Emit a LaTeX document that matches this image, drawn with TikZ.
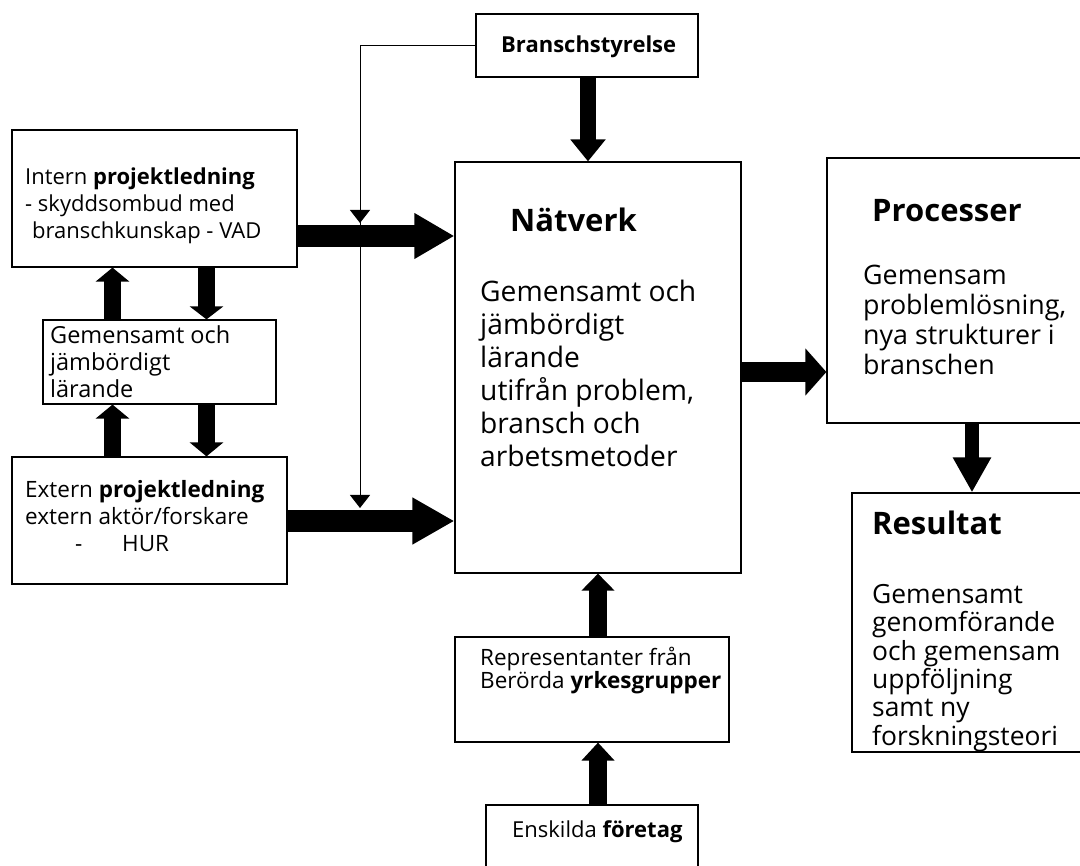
\documentclass[tikz,border=0pt]{standalone}
\usepackage{fontspec}
\setmainfont{Open Sans}
\usetikzlibrary{arrows.meta}
\newcommand\mylines[1]{\begin{tabular}[t]{@{}l@{}}#1\end{tabular}}
\begin{document}
\begin{tikzpicture}[x=1pt,y=-1pt,
  box/.style={draw, line width=1.2pt, inner sep=0pt, rectangle},
  txt/.style={anchor=base west, inner sep=0pt},
  bigarr/.style n args={3}{line width=#1pt, -{Triangle[width=#2pt,length=#3pt]}},
  thinarr/.style={line width=1pt, -{Triangle[width=20pt,length=13pt]}}]
\useasboundingbox (0,0) rectangle (1080,866);

% boxes
\node[box, minimum width=222pt, minimum height=63pt]  (brans)  at (587,45.5) {};
\node[box, minimum width=286pt, minimum height=411pt] (netv)   at (598,367.5) {};
\node[box, minimum width=258pt, minimum height=265pt] (proc)   at (956,290.5) {};
\node[box, minimum width=233pt, minimum height=259pt] (res)    at (968.5,622.5) {};
\node[box, minimum width=285pt, minimum height=137pt] (intern) at (154.5,198.5) {};
\node[box, minimum width=233pt, minimum height=84pt]  (gem)    at (159.5,362) {};
\node[box, minimum width=275pt, minimum height=127pt] (ext)    at (149.5,520.5) {};
\node[box, minimum width=274pt, minimum height=105pt] (repr)   at (592,689.5) {};
\node[box, minimum width=212pt, minimum height=75pt]  (fore)   at (592,842.5) {};

% texts
\node[txt] (tbrans) at (501,53) {\fontsize{22pt}{26pt}\selectfont\bfseries Branschstyrelse};
\node[txt] (tnetvh) at (510,232) {\fontsize{31pt}{36pt}\selectfont\bfseries Nätverk};
\node[txt] (tnetv) at (480,302) {\fontsize{28.2pt}{33pt}\selectfont\mylines{Gemensamt och\\jämbördigt\\lärande\\utifrån problem,\\bransch och\\arbetsmetoder}};
\node[txt] (tproch) at (872,222) {\fontsize{31pt}{36pt}\selectfont\bfseries Processer};
\node[txt] (tproc) at (863,285) {\fontsize{26.8pt}{30pt}\selectfont\mylines{Gemensam\\problemlösning,\\nya strukturer i\\branschen}};
\node[txt] (tresh) at (872,535) {\fontsize{31pt}{36pt}\selectfont\bfseries Resultat};
\node[txt] (tres) at (872,603) {\fontsize{26.4pt}{28pt}\selectfont\mylines{Gemensamt\\genomförande\\och gemensam\\uppföljning\\samt ny\\forskningsteori}};
\node[txt] (tintern) at (25,185) {\fontsize{22pt}{27pt}\selectfont\mylines{Intern \textbf{projektledning}\\- skyddsombud med\\\hspace*{7pt}branschkunskap - VAD}};
\node[txt] (tgem) at (50,344) {\fontsize{23.5pt}{27pt}\selectfont\mylines{Gemensamt och\\jämbördigt\\lärande}};
\node[txt] (text) at (25,498) {\fontsize{22.5pt}{27pt}\selectfont\mylines{Extern \textbf{projektledning}\\extern aktör/forskare\\\hspace*{50pt}\makebox[47pt][l]{-}HUR}};
\node[txt] (trepr) at (480,665) {\fontsize{22.5pt}{23pt}\selectfont\mylines{Representanter från\\Berörda \textbf{yrkesgrupper}}};
\node[txt] (tfore) at (512,837) {\fontsize{22pt}{25pt}\selectfont Enskilda \textbf{företag}};

% thick arrows
\draw[bigarr={16}{34}{22}] (brans.south -| 588,0) -- (netv.north -| 588,0);
\draw[bigarr={22}{43}{40}] (intern.east |- 0,236) -- (netv.west |- 0,236);
\draw[bigarr={22}{44}{42}] (ext.east |- 0,521) -- (netv.west |- 0,521);
\draw[bigarr={20}{46}{21}] (netv.east |- 0,372) -- (proc.west |- 0,372);
\draw[bigarr={14}{36}{35}] (proc.south -| 972,0) -- (res.north -| 972,0);
\draw[bigarr={17}{33}{14}] (gem.north -| 112.5,0) -- (intern.south -| 112.5,0);
\draw[bigarr={17}{33}{13}] (intern.south -| 206.5,0) -- (gem.north -| 206.5,0);
\draw[bigarr={17}{33}{14}] (ext.north -| 112.5,0) -- (gem.south -| 112.5,0);
\draw[bigarr={17}{33}{14}] (gem.south -| 206.5,0) -- (ext.north -| 206.5,0);
\draw[bigarr={18}{32}{17}] (repr.north -| 598,0) -- (netv.south -| 598,0);
\draw[bigarr={18}{32}{18}] (fore.north -| 598,0) -- (repr.south -| 598,0);

% thin connector
\coordinate (j1) at (360,223);
\coordinate (j2) at (360,508);
\draw[thinarr] (brans.west) -| (j2);
\draw[thinarr] (brans.west) -| (j1);
\end{tikzpicture}
\end{document}
